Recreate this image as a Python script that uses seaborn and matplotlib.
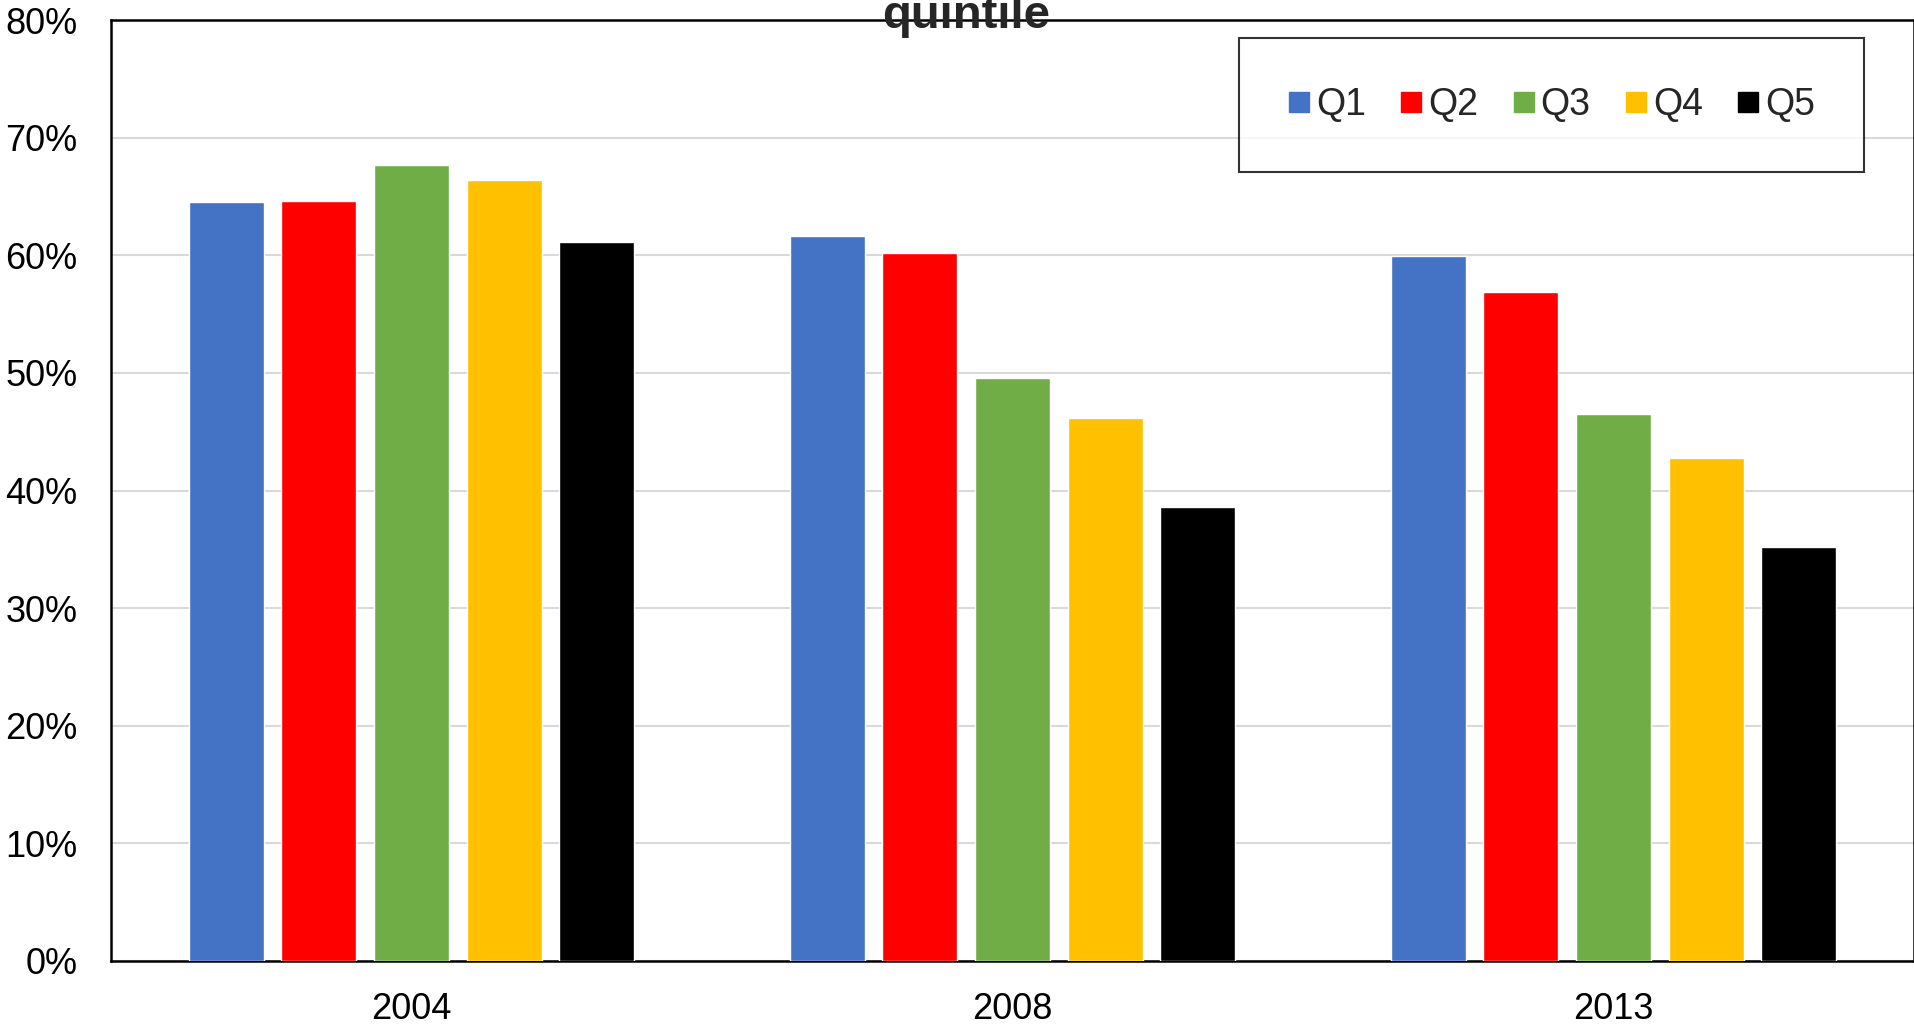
import matplotlib
matplotlib.use("Agg")
import matplotlib.pyplot as plt
import seaborn as sns
import pandas as pd
from matplotlib.ticker import PercentFormatter, MultipleLocator
from matplotlib.lines import Line2D

years = ["2004", "2008", "2013"]
quintiles = ["Q1", "Q2", "Q3", "Q4", "Q5"]
q1 = [0.645, 0.616, 0.599]
q2 = [0.646, 0.602, 0.569]
q3 = [0.677, 0.496, 0.465]
q4 = [0.664, 0.462, 0.428]
q5 = [0.611, 0.386, 0.352]
colors = ["#4472C4", "#FF0000", "#70AD47", "#FFC000", "#000000"]
title_text = "quintile"

series = [q1, q2, q3, q4, q5]
rows = []
for qi, q in enumerate(quintiles):
    for yi, y in enumerate(years):
        rows.append({"year": y, "quintile": q, "value": series[qi][yi]})
df = pd.DataFrame(rows)

sns.set_theme(style="white")
plt.rcParams["font.family"] = ["Liberation Sans", "DejaVu Sans"]

W, H = 1914, 1024
fig = plt.figure(figsize=(W / 100, H / 100), dpi=100)
ax = fig.add_axes([111 / W, 1 - 961 / H, (W - 111) / W, (961 - 20) / H])

sns.barplot(data=df, x="year", y="value", hue="quintile", order=years,
            hue_order=quintiles, palette=colors, saturation=1,
            width=0.77, gap=0.19, ax=ax, legend=False, zorder=3)

ax.set_xlim(-0.5, 2.5)
ax.set_ylim(0, 0.8)
ax.yaxis.set_major_locator(MultipleLocator(0.1))
ax.yaxis.set_major_formatter(PercentFormatter(1.0, decimals=0))
ax.grid(axis="y", color="#d9d9d9", linewidth=1.5, zorder=0)
ax.set_axisbelow(True)
ax.set_xlabel("")
ax.set_ylabel("")
ax.tick_params(axis="both", length=0, labelsize=26, colors="black")
ax.tick_params(axis="y", pad=24)
ax.tick_params(axis="x", pad=22)
for s in ["left", "top", "bottom", "right"]:
    ax.spines[s].set_color("black")
    ax.spines[s].set_linewidth(1.8)

handles = [Line2D([0], [0], marker="s", linestyle="none", markersize=14,
                  markerfacecolor=c, markeredgecolor=c) for c in colors]
leg = fig.legend(handles, quintiles, loc="upper left",
                 bbox_to_anchor=(1239 / W, 1 - 172 / H, 625 / W, 134 / H),
                 mode="expand", ncol=5,
                 fontsize=27, frameon=True, fancybox=False,
                 edgecolor="black", borderpad=1.3, handlelength=0.6,
                 handletextpad=0.15, columnspacing=1.0, borderaxespad=0)
leg.get_frame().set_linewidth(1.5)

fig.text(966 / W, 1 - 28 / H, title_text, ha="center", va="baseline",
         fontsize=34, fontweight="bold")

fig.savefig("out.png", dpi=100)
